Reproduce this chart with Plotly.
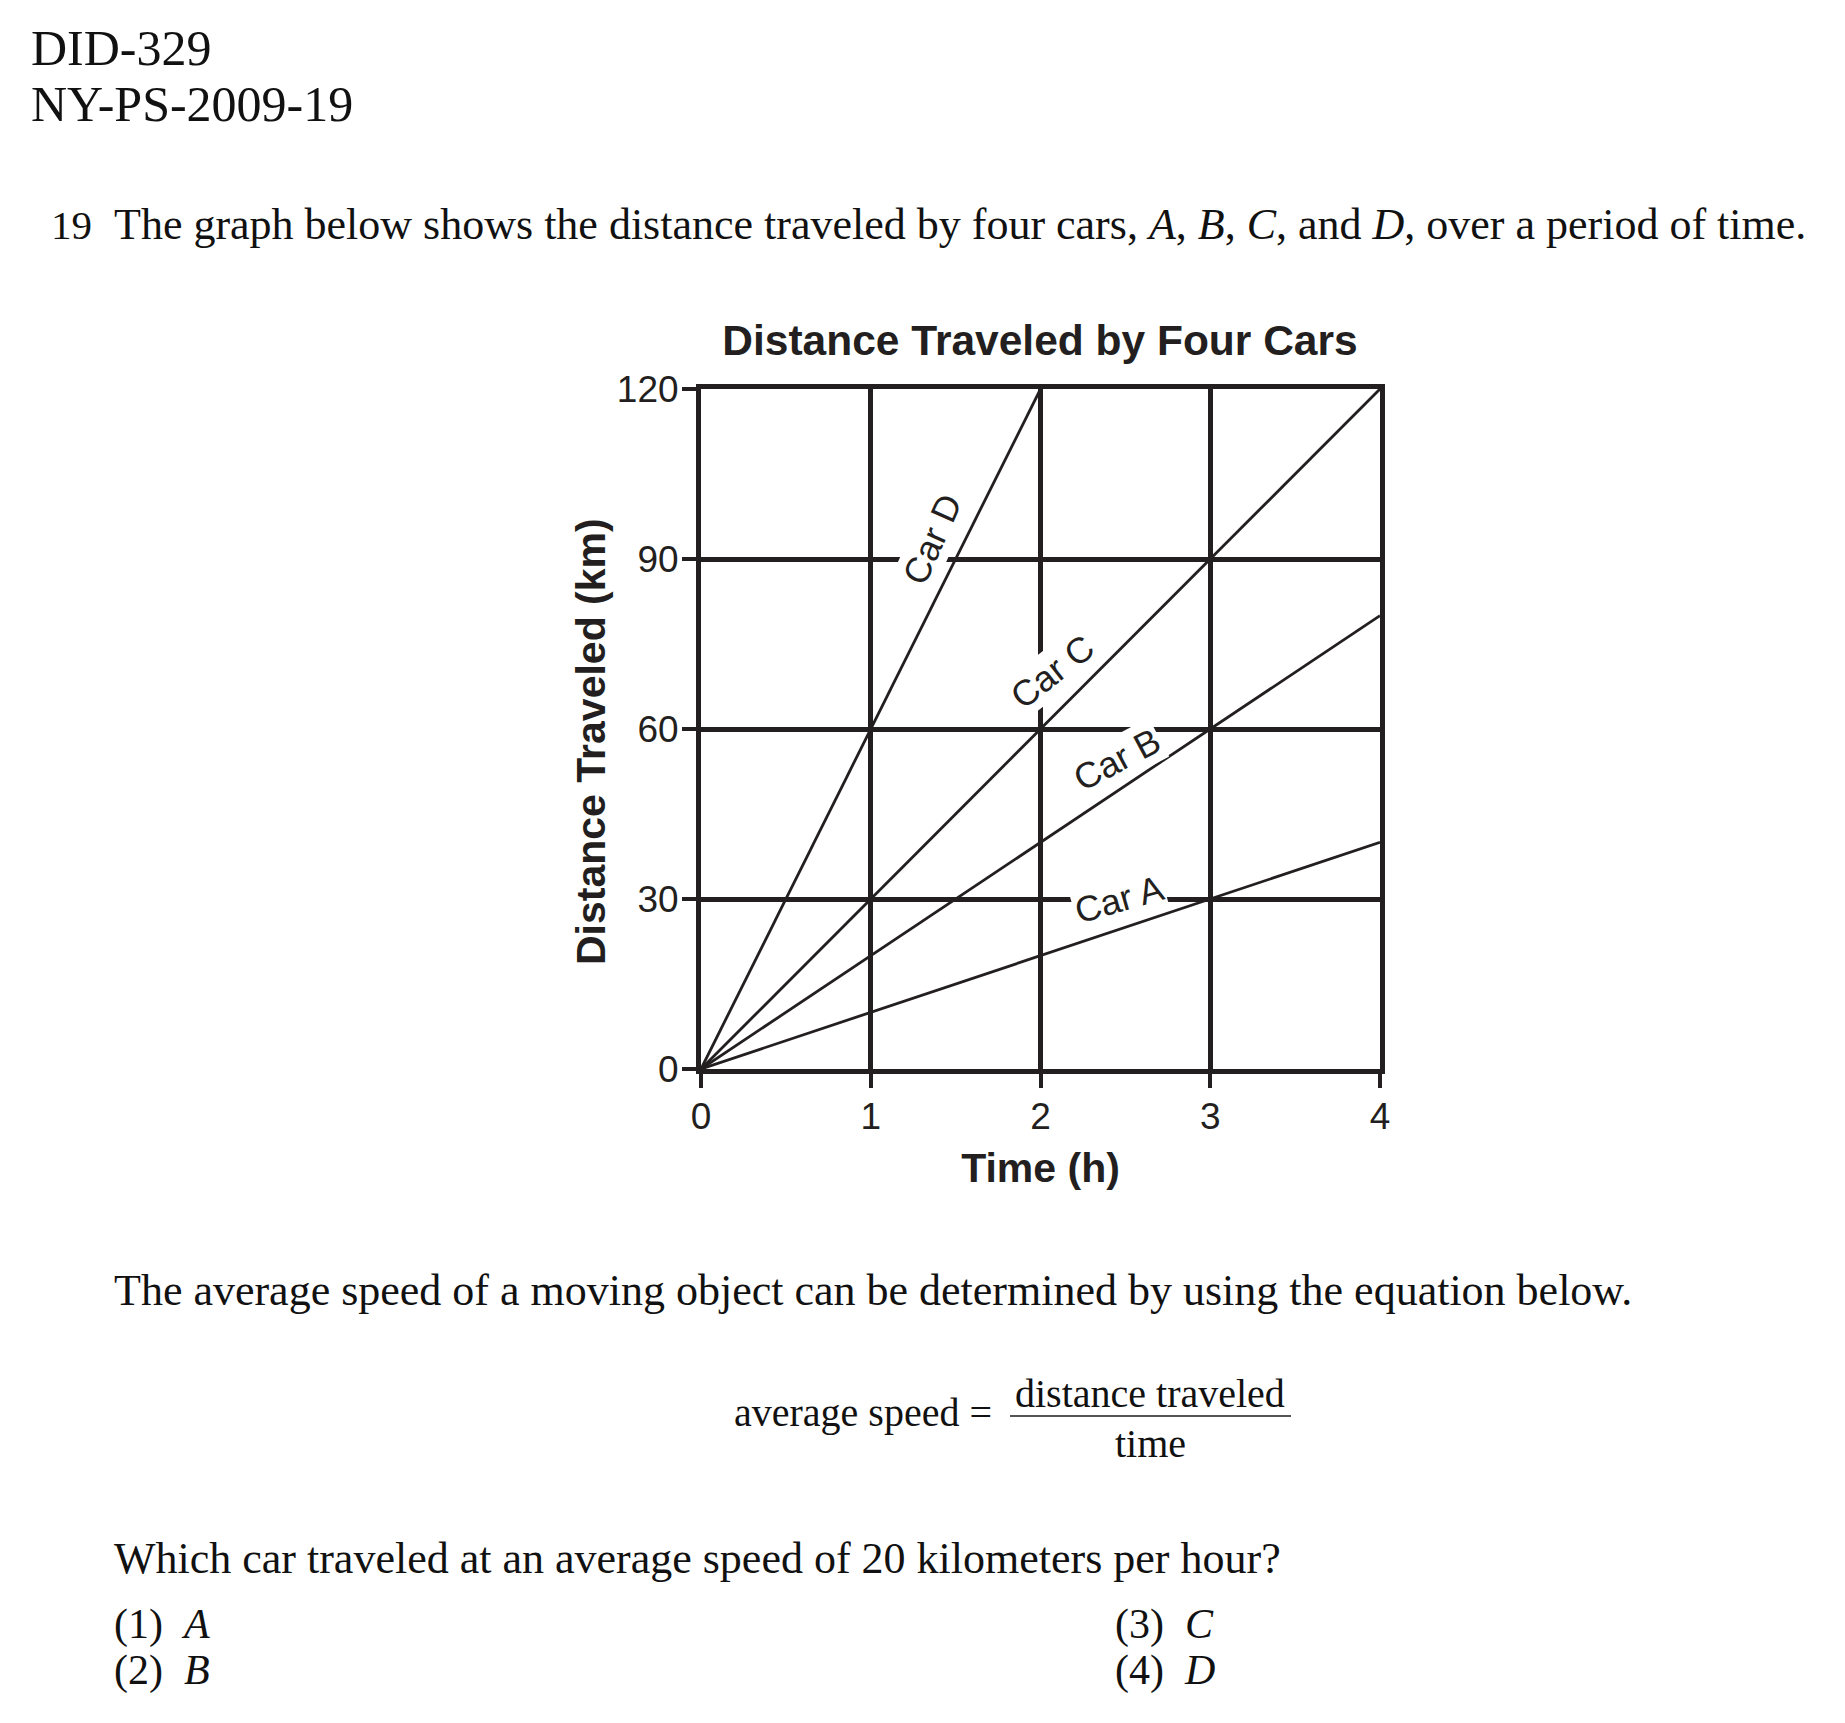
import plotly.graph_objects as go

# ---------------- data ----------------
car_names = ["Car A", "Car B", "Car C", "Car D"]
start_time_h = [0, 0, 0, 0]
end_time_h = [4, 4, 4, 2]
start_distance_km = [0, 0, 0, 0]
end_distance_km = [40, 80, 120, 120]

x_tick_values = [0, 1, 2, 3, 4]
y_tick_values = [0, 30, 60, 90, 120]

chart_title = "Distance Traveled by Four Cars"
x_title = "Time (h)"
y_title = "Distance Traveled (km)"

# ---------------- layout geometry (pixels) ----------------
FW, FH = 1845, 1723
PL, PR, PT, PB = 701, 1380, 389, 1069   # plot area edges
INK = "#231f20"
SANS = "Liberation Sans, Arial, sans-serif"
SERIF = "Liberation Serif, Times New Roman, serif"


def px_x(px):
    return (px - PL) / (PR - PL)


def px_y(py):
    return (PB - py) / (PB - PT)


fig = go.Figure()

for name, t0, t1, d0, d1 in zip(car_names, start_time_h, end_time_h,
                                start_distance_km, end_distance_km):
    fig.add_trace(go.Scatter(
        x=[t0, t1], y=[d0, d1], mode="lines", name=name,
        line=dict(color=INK, width=2.8), showlegend=False,
        hoverinfo="x+y+name"))

# car labels placed beside their lines (data coords), with white boxes
label_style = {
    "Car A": dict(x=2.46, y=30.0, angle=-16),
    "Car B": dict(x=2.45, y=54.6, angle=-28),
    "Car C": dict(x=2.07, y=70.2, angle=-38),
    "Car D": dict(x=1.36, y=93.5, angle=-66),
}
for name in car_names:
    s = label_style[name]
    fig.add_annotation(x=s["x"], y=s["y"], xref="x", yref="y", text=name,
                       textangle=s["angle"], showarrow=False,
                       font=dict(family=SANS, size=36, color=INK),
                       bgcolor="white", borderpad=1,
                       xanchor="center", yanchor="middle")

axis_common = dict(
    showline=True, linecolor=INK, linewidth=5, mirror=True,
    showgrid=True, gridcolor=INK, gridwidth=5, zeroline=False,
    ticks="outside", ticklen=14, tickwidth=4, tickcolor=INK,
    tickfont=dict(family=SANS, size=37, color=INK),
    fixedrange=True,
)

fig.update_xaxes(range=[0, 4], tickvals=x_tick_values,
                 ticktext=[str(v) for v in x_tick_values],
                 ticklabelstandoff=-3,
                 title=dict(text=x_title, standoff=18,
                            font=dict(family=SANS, size=41, color=INK, weight="bold")),
                 **axis_common)
fig.update_yaxes(range=[0, 120], tickvals=y_tick_values,
                 ticktext=[str(v) for v in y_tick_values],
                 ticklabelstandoff=-4,
                 **axis_common)

fig.update_layout(
    width=FW, height=FH,
    margin=dict(l=PL, r=FW - PR, t=PT, b=FH - PB, autoexpand=False),
    paper_bgcolor="white", plot_bgcolor="white",
    title=dict(text=chart_title, x=1040 / FW, xanchor="center",
               y=1 - 340 / FH, yanchor="middle", xref="container", yref="container",
               font=dict(family=SANS, size=42.5, color=INK, weight="bold")),
)

# y-axis title (placed precisely as rotated text)
fig.add_annotation(x=px_x(591), y=px_y(742), xref="paper", yref="paper",
                   text=y_title, textangle=-90, showarrow=False,
                   xanchor="center", yanchor="middle",
                   font=dict(family=SANS, size=41, color=INK, weight="bold"))


def page_text(text, px, py, size, xanchor="left", color="#111111"):
    fig.add_annotation(x=px_x(px), y=px_y(py), xref="paper", yref="paper",
                       text=text, showarrow=False, xanchor=xanchor,
                       yanchor="middle", align="left",
                       font=dict(family=SERIF, size=size, color=color))


page_text("DID-329", 29, 48, 50)
page_text("NY-PS-2009-19", 29, 104, 50)

page_text("19", 49, 225, 41)
page_text("The graph below shows the distance traveled by four cars, <i>A</i>, <i>B</i>, "
          "<i>C</i>, and <i>D</i>, over a period of time.", 112, 225, 44)

page_text("The average speed of a moving object can be determined by using the equation below.",
          112, 1290, 44)

page_text("average speed =", 994, 1412, 40, xanchor="right")
page_text("distance traveled", 1150, 1393, 40, xanchor="center")
page_text("time", 1150, 1443, 40, xanchor="center")
fig.add_shape(type="line", xref="paper", yref="paper",
              x0=px_x(1010), x1=px_x(1291), y0=px_y(1416), y1=px_y(1416),
              line=dict(color="#555555", width=2))

page_text("Which car traveled at an average speed of 20 kilometers per hour?", 112, 1558, 44)
page_text("(1)&nbsp;&nbsp;<i>A</i>", 112, 1624, 42)
page_text("(2)&nbsp;&nbsp;<i>B</i>", 112, 1670, 42)
page_text("(3)&nbsp;&nbsp;<i>C</i>", 1113, 1624, 42)
page_text("(4)&nbsp;&nbsp;<i>D</i>", 1113, 1670, 42)

fig.write_html("out.html", config={"displayModeBar": False},
               post_script="document.body.style.margin='0';")
